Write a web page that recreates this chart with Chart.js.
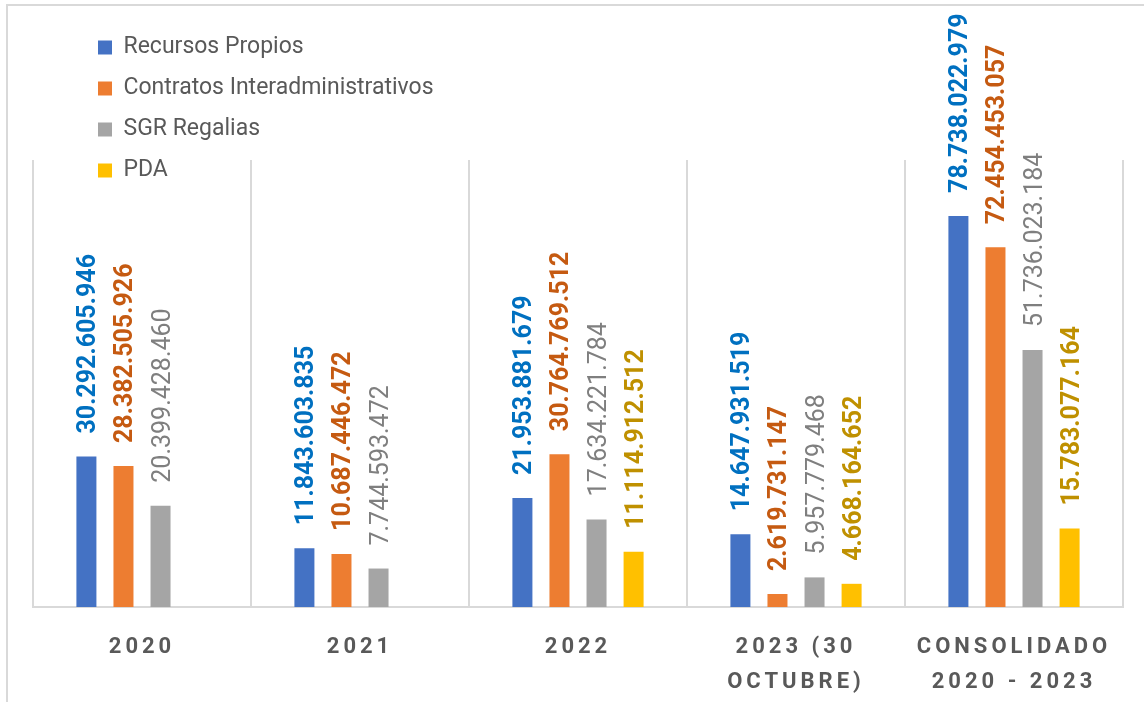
<!DOCTYPE html>
<html>
<head>
<meta charset="utf-8">
<script src="https://cdn.jsdelivr.net/npm/chart.js@4.4.1/dist/chart.umd.min.js"></script>
<style>
  html, body { margin: 0; padding: 0; background: #ffffff; }
  #wrap { position: relative; width: 1144px; height: 702px; overflow: hidden; }
  #frame { position: absolute; left: 6px; top: 4px; width: 1140px; height: 700px;
           border-top: 2px solid #d9d9d9; border-left: 2px solid #d9d9d9; box-sizing: border-box; }
  #c { position: absolute; left: 0; top: 0; }
</style>
</head>
<body>
<div id="wrap">
  <div id="frame"></div>
  <canvas id="c" width="1144" height="702"></canvas>
</div>
<script>
// ---- data ----
const categories = [['2020'], ['2021'], ['2022'], ['2023 (30', 'OCTUBRE)'], ['CONSOLIDADO', '2020 - 2023']];
const seriesNames = ['Recursos Propios', 'Contratos Interadministrativos', 'SGR Regalias', 'PDA'];
const recursosPropios = [30292605946, 11843603835, 21953881679, 14647931519, 78738022979];
const contratosInter = [28382505926, 10687446472, 30764769512, 2619731147, 72454453057];
const sgrRegalias = [20399428460, 7744593472, 17634221784, 5957779468, 51736023184];
const pda = [null, null, 11114912512, 4668164652, 15783077164];

// ---- styles ----
const barColors = ['#4472C4', '#ED7D31', '#A5A5A5', '#FFC000'];
const labelColors = ['#0070C0', '#C55A11', '#7F7F7F', '#BF9000'];
const labelWeights = ['bold', 'bold', 'normal', 'bold'];
const FONT = 'Roboto, "Open Sans", sans-serif';

function fmt(v) {
  return String(v).replace(/\B(?=(\d{3})+(?!\d))/g, '.');
}

const valueLabels = {
  id: 'valueLabels',
  beforeDraw(chart) { chart.ctx.letterSpacing = '0px'; },
  afterLayout(chart) {
    const lg = chart.legend;
    if (!lg) return;
    lg.left = 80; lg.top = 18;
    lg.width = 600; lg.height = 260;
    lg.right = lg.left + lg.width; lg.bottom = lg.top + lg.height;
  },
  afterDatasetsDraw(chart) {
    const ctx = chart.ctx;
    chart.data.datasets.forEach((ds, i) => {
      const meta = chart.getDatasetMeta(i);
      meta.data.forEach((el, j) => {
        const v = ds.data[j];
        if (v === null || v === undefined) return;
        ctx.save();
        ctx.translate(el.x, el.y - 23);
        ctx.rotate(-Math.PI / 2);
        ctx.font = labelWeights[i] + ' 25px ' + FONT;
        ctx.fillStyle = labelColors[i];
        ctx.textAlign = 'left';
        ctx.textBaseline = 'alphabetic';
        ctx.fillText(fmt(v), 0, 9);
        ctx.restore();
      });
    });
    // letter spacing for the category labels drawn after datasets
    ctx.letterSpacing = '4px';
  },
  afterDraw(chart) { chart.ctx.letterSpacing = '0px'; }
};

const seriesData = [recursosPropios, contratosInter, sgrRegalias, pda];

new Chart(document.getElementById('c'), {
  type: 'bar',
  data: {
    labels: categories,
    datasets: seriesNames.map((name, i) => ({
      label: name,
      data: seriesData[i],
      backgroundColor: barColors[i],
      borderWidth: 0,
      categoryPercentage: 0.68,
      barPercentage: 0.54
    }))
  },
  options: {
    responsive: false,
    animation: false,
    devicePixelRatio: 1,
    layout: { padding: { left: 33, right: 21, top: 160, bottom: -21 } },
    plugins: {
      legend: {
        position: 'chartArea',
        align: 'start',
        labels: {
          boxWidth: 14,
          boxHeight: 14,
          padding: 18,
          color: '#595959',
          font: { family: FONT, size: 23 }
        }
      },
      tooltip: { enabled: false },
      title: { display: false }
    },
    scales: {
      x: {
        grid: { offset: true, color: '#d9d9d9', lineWidth: 2, drawTicks: false },
        border: { color: '#d9d9d9', width: 2 },
        ticks: {
          z: 1,
          padding: 23,
          autoSkip: false,
          maxRotation: 0,
          color: '#595959',
          font: { family: FONT, size: 22, weight: 'bold', lineHeight: 1.591 }
        }
      },
      y: {
        display: false,
        min: 0,
        max: 90000000000
      }
    }
  },
  plugins: [valueLabels]
});
</script>
</body>
</html>
